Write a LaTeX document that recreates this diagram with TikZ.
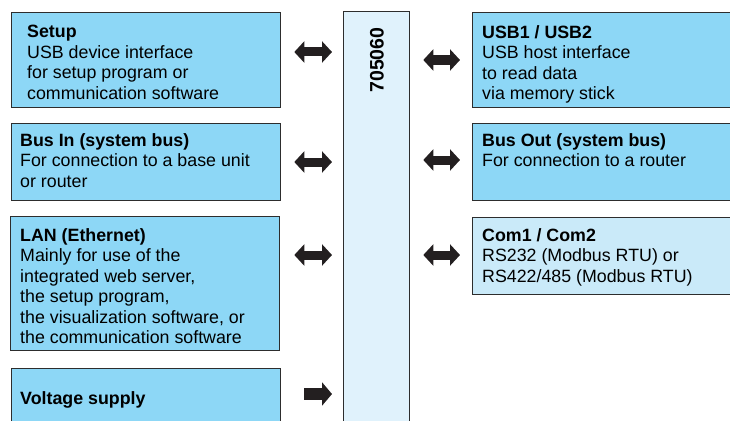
\documentclass[tikz,border=0pt]{standalone}
\usepackage{fontspec}
\setmainfont{Liberation Sans}
\usetikzlibrary{arrows.meta}

\definecolor{boxblue}{RGB}{141,215,246}
\definecolor{comblue}{RGB}{202,234,249}
\definecolor{devblue}{RGB}{224,242,252}
\definecolor{edge}{RGB}{45,45,45}
\definecolor{arrowink}{RGB}{35,31,32}

\begin{document}
\begin{tikzpicture}[x=1pt, y=-1pt,
    box/.style={draw=edge, line width=1.3pt, fill=boxblue, anchor=north west, inner sep=0pt},
    txt/.style={anchor=north west, inner sep=0pt, align=left, font=\fontsize{17.8}{20.5}\selectfont},
    twoway/.style={arrowink, line width=9pt, {Triangle[length=10pt,width=21pt]}-{Triangle[length=10pt,width=21pt]}},
    oneway/.style={arrowink, line width=12pt, -{Triangle[length=10pt,width=23pt]}}]

    \useasboundingbox (0,0) rectangle (730,420);
    \clip (0,0) rectangle (730,420);

    % Device in the middle
    \node[box, fill=devblue, minimum width=66pt, minimum height=430pt] (dev) at (343,11) {};
    \node[txt, rotate=90, anchor=center, font=\fontsize{19.5}{22}\selectfont] (devname) at (377,60) {\textbf{705060}};

    % Interfaces on the left
    \node[box, minimum width=269pt, minimum height=95pt] (setup) at (11,12) {};
    \node[txt] (setuptxt) at (27,25) {\textbf{Setup}\\USB device interface\\for setup program or\\communication software};

    \node[box, minimum width=269pt, minimum height=77pt] (busin) at (11,123) {};
    \node[txt] (busintxt) at (20,133) {\textbf{Bus In (system bus)}\\For connection to a base unit\\or router};

    \node[box, minimum width=269pt, minimum height=134pt] (lan) at (10,216) {};
    \node[txt] (lantxt) at (20,228) {\textbf{LAN (Ethernet)}\\Mainly for use of the\\integrated web server,\\the setup program,\\the visualization software, or\\the communication software};

    \node[box, minimum width=269pt, minimum height=70pt] (supply) at (11,368) {};
    \node[txt] (supplytxt) at (20,391) {\textbf{Voltage supply}};

    % Interfaces on the right
    \node[box, minimum width=270pt, minimum height=95pt] (usb) at (472,12) {};
    \node[txt] (usbtxt) at (482,25) {\textbf{USB1 / USB2}\\USB host interface\\to read data\\via memory stick};

    \node[box, minimum width=270pt, minimum height=77pt] (busout) at (472,123) {};
    \node[txt] (busouttxt) at (482,133) {\textbf{Bus Out (system bus)}\\For connection to a router};

    \node[box, fill=comblue, minimum width=270pt, minimum height=77pt] (com) at (472,217) {};
    \node[txt] (comtxt) at (482,228) {\textbf{Com1 / Com2}\\RS232 (Modbus RTU) or\\RS422/485 (Modbus RTU)};

    % Arrow heights
    \coordinate (ya) at (0,52);
    \coordinate (yb) at (0,162);
    \coordinate (yc) at (0,255);
    \coordinate (yd) at (0,394);
    \coordinate (ye) at (0,60);
    \coordinate (yf) at (0,160);
    \coordinate (yg) at (0,255);

    % Connections
    \draw[twoway, shorten <=13pt, shorten >=11pt] (setup.east |- ya) -- (dev.west |- ya);
    \draw[twoway, shorten <=13pt, shorten >=11pt] (busin.east |- yb) -- (dev.west |- yb);
    \draw[twoway, shorten <=14pt, shorten >=11pt] (lan.east |- yc) -- (dev.west |- yc);
    \draw[oneway, shorten <=23pt, shorten >=11pt] (supply.east |- yd) -- (dev.west |- yd);
    \draw[twoway, shorten <=13pt, shorten >=12pt] (dev.east |- ye) -- (usb.west |- ye);
    \draw[twoway, shorten <=13pt, shorten >=12pt] (dev.east |- yf) -- (busout.west |- yf);
    \draw[twoway, shorten <=13pt, shorten >=12pt] (dev.east |- yg) -- (com.west |- yg);

\end{tikzpicture}
\end{document}
